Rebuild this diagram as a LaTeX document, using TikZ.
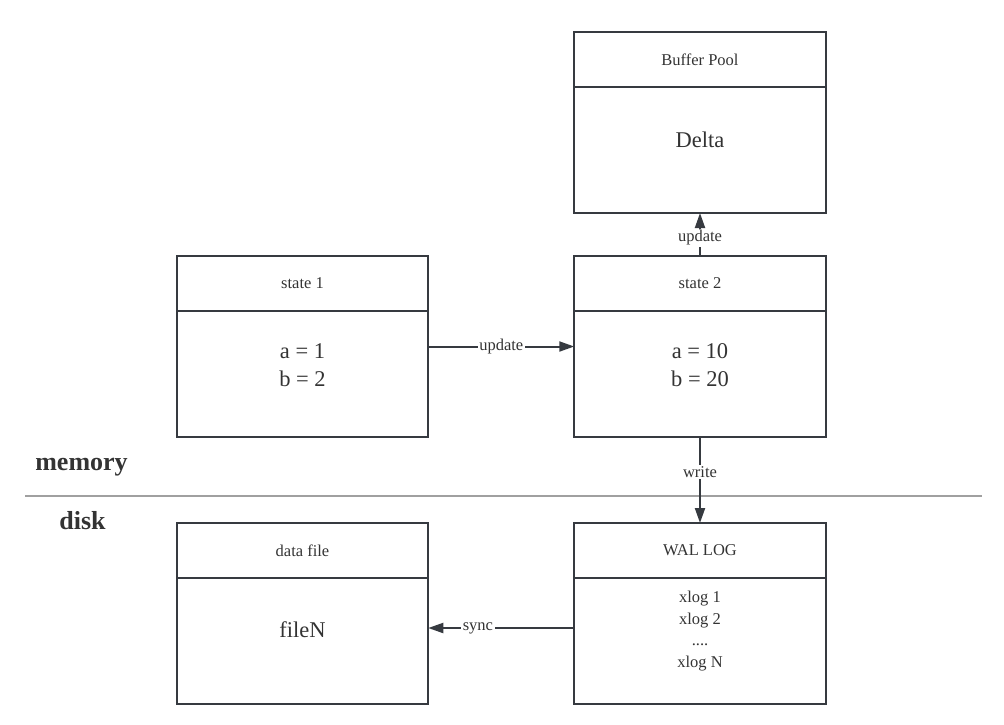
\documentclass[tikz,border=0pt]{standalone}
\usepackage{fontspec}
\setmainfont{Liberation Serif}
\usetikzlibrary{positioning,arrows.meta}
\definecolor{boxline}{HTML}{363A40}
\definecolor{txt}{HTML}{333333}
\definecolor{sepline}{HTML}{A0A0A0}
\tikzset{
	head/.style={draw=boxline,minimum width=251.5pt,minimum height=55pt,outer sep=0pt,inner sep=0pt,text=txt,font=\fontsize{16.5}{20}\selectfont},
	body/.style={draw=boxline,minimum width=251.5pt,minimum height=126pt,outer sep=0pt,inner sep=0pt},
	big/.style={text=txt,align=center,font=\fontsize{22.5}{28}\selectfont},
	small/.style={text=txt,align=center,font=\fontsize{16.5}{21.5}\selectfont},
	lbl/.style={fill=white,text=txt,inner sep=1.5pt,font=\fontsize{16.5}{20}\selectfont},
	side/.style={anchor=west,text=txt,font=\bfseries\fontsize{26}{30}\selectfont},
}
\begin{document}
\begin{tikzpicture}[>={Triangle[length=15pt,width=10pt]},x=1pt,y=-1pt,line width=2pt]
	\useasboundingbox (0,0) rectangle (1004,724);
	% boxes
	\node[head] (bph) at (700,59.5) {Buffer Pool};
	\node[body,below=0pt of bph] (bpb) {};
	\node[head] (st1h) at (302.5,283.5) {state 1};
	\node[body,below=0pt of st1h] (st1b) {};
	\node[head] (st2h) at (700,283.5) {state 2};
	\node[body,below=0pt of st2h] (st2b) {};
	\node[head] (dfh) at (302.5,550.5) {data file};
	\node[body,below=0pt of dfh] (dfb) {};
	\node[head] (walh) at (700,550.5) {WAL LOG};
	\node[body,below=0pt of walh] (walb) {};
	% contents
	\node[big] (bpt) at ([yshift=10pt]bpb.center) {Delta};
	\node[big] (st1t) at ([yshift=9pt]st1b.center) {a = 1\\b = 2};
	\node[big] (st2t) at ([yshift=9pt]st2b.center) {a = 10\\b = 20};
	\node[big] (dft) at ([yshift=11pt]dfb.center) {fileN};
	\node[small] (walt) at ([yshift=10pt]walb.center) {xlog 1\\xlog 2\\....\\xlog N};
	% memory / disk
	\coordinate (sepl) at (25,496);
	\coordinate (sepr) at (982,496);
	\draw[sepline,line width=1.5pt] (sepl)--(sepr);
	\node[side] (mem) at (31,467) {memory};
	\node[side] (dsk) at (55,521) {disk};
	% arrows
	\draw[boxline,->] ([yshift=27.5pt]st1b.east) -- node[lbl]{update} ([yshift=27.5pt]st2b.west);
	\draw[boxline,->] (st2h.north) -- node[lbl,pos=0.42]{update} (bpb.south);
	\draw[boxline,->] (st2b.south) -- node[lbl,pos=0.41]{write} (walh.north);
	\draw[boxline,->] ([yshift=13pt]walb.west) -- node[lbl,pos=0.66]{sync} ([yshift=13pt]dfb.east);
\end{tikzpicture}
\end{document}
